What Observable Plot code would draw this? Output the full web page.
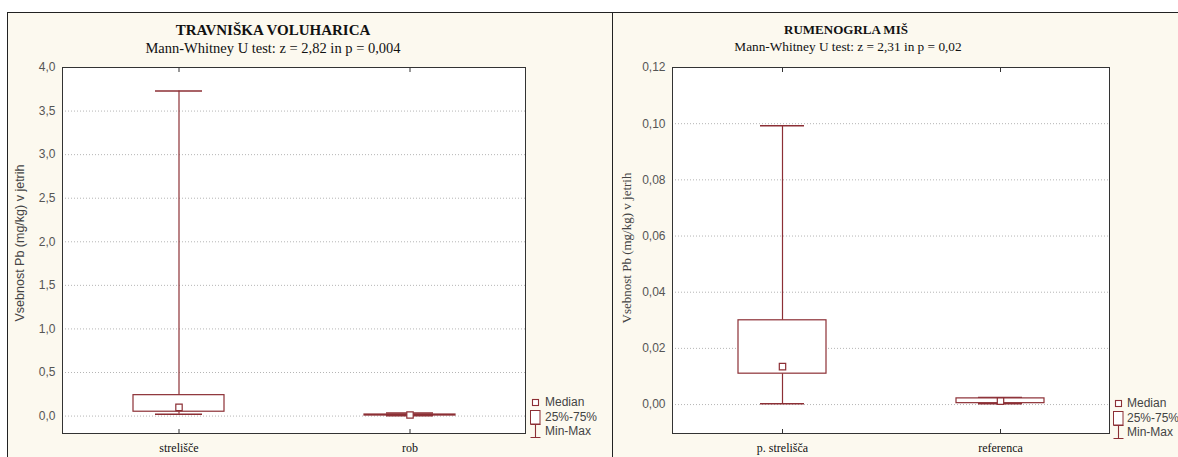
<!DOCTYPE html>
<html>
<head>
<meta charset="utf-8">
<script src="https://cdn.jsdelivr.net/npm/d3@7"></script>
<script src="https://cdn.jsdelivr.net/npm/@observablehq/plot@0.6"></script>
<style>
  html, body { margin: 0; padding: 0; background: #ffffff; }
  #root { position: relative; width: 1178px; height: 457px; overflow: hidden; }
  .panel { position: absolute; top: 12px; height: 460px; background: #fcf9ef; border-left: 1px solid #222; border-top: 1px solid #222; }
  .abs { position: absolute; white-space: nowrap; }
  .title { font-family: "Liberation Serif", serif; font-weight: bold; color: #111; transform: translate(-50%, -50%); }
  .subtitle { font-family: "Liberation Serif", serif; color: #111; transform: translate(-50%, -50%); }
  .ylab { transform: translate(-50%, -50%) rotate(-90deg); color: #444; }
  .legtext { font-family: "Liberation Sans", Arial, sans-serif; font-size: 12px; color: #444; transform: translateY(-50%); }
  svg.icon { position: absolute; overflow: visible; }
</style>
</head>
<body>
<div id="root"></div>
<script>
// ---- data ----
const leftCategories = ["strelišče", "rob"];
const leftMin    = [0.02, 0.003];
const leftQ1     = [0.05, 0.006];
const leftMedian = [0.10, 0.012];
const leftQ3     = [0.24, 0.018];
const leftMax    = [3.73, 0.035];
const leftTicks  = [0, 0.5, 1, 1.5, 2, 2.5, 3, 3.5, 4];

const rightCategories = ["p. strelišča", "referenca"];
const rightMin    = [0.0003, 0.0003];
const rightQ1     = [0.011, 0.0005];
const rightMedian = [0.0135, 0.0012];
const rightQ3     = [0.030, 0.0022];
const rightMax    = [0.0993, 0.0025];
const rightTicks  = [0, 0.02, 0.04, 0.06, 0.08, 0.10, 0.12];

const leftTitle = "TRAVNIŠKA VOLUHARICA";
const leftSubtitle = "Mann-Whitney U test: z = 2,82 in p = 0,004";
const rightTitle = "RUMENOGRLA MIŠ";
const rightSubtitle = "Mann-Whitney U test: z = 2,31 in p = 0,02";
const yLabel = "Vsebnost Pb (mg/kg) v jetrih";
const legendLabels = ["Median", "25%-75%", "Min-Max"];

const COL = "#8c2f35";
const root = document.getElementById("root");

function rows(cats, mn, q1, md, q3, mx) {
  return cats.map((c, i) => ({cat: c, min: mn[i], q1: q1[i], median: md[i], q3: q3[i], max: mx[i]}));
}

function boxPlot({data, cats, ticks, yDomain, fmt, width, ml, mr, boxInset, capInset}) {
  return Plot.plot({
    width, height: 457,
    marginLeft: ml, marginRight: mr, marginTop: 67, marginBottom: 24,
    style: {background: "transparent", fontFamily: "Liberation Sans, Arial, sans-serif", fontSize: "12px", color: "#555", overflow: "visible"},
    x: {type: "band", domain: cats, padding: 0, axis: null},
    y: {domain: yDomain, axis: null},
    marks: [
      Plot.frame({fill: "white", stroke: null}),
      Plot.ruleY(ticks, {stroke: "#b5b5b5", strokeDasharray: "1,2"}),
      Plot.ruleX(data, {x: "cat", y1: "min", y2: "q1", stroke: COL, strokeWidth: 1.2}),
      Plot.ruleX(data, {x: "cat", y1: "q3", y2: "max", stroke: COL, strokeWidth: 1.2}),
      Plot.tickY(data, {x: "cat", y: "min", stroke: COL, strokeWidth: 1.5, insetLeft: capInset, insetRight: capInset}),
      Plot.tickY(data, {x: "cat", y: "max", stroke: COL, strokeWidth: 1.5, insetLeft: capInset, insetRight: capInset}),
      Plot.barY(data, {x: "cat", y1: "q1", y2: "q3", fill: "white", stroke: COL, strokeWidth: 1.2, insetLeft: boxInset, insetRight: boxInset}),
      Plot.dot(data, {x: "cat", y: "median", symbol: "square", r: 3.6, fill: "white", stroke: COL, strokeWidth: 1.2}),
      Plot.frame({stroke: "#333", strokeWidth: 1}),
      Plot.axisY({ticks, tickSize: 0, tickPadding: 7, tickFormat: fmt, fill: "#555", label: null}),
      Plot.axisX({anchor: "bottom", tickSize: -4, tickPadding: 14, stroke: "#333", fill: "#111", fontFamily: "Liberation Serif, serif", fontSize: 12, label: null}),
      Plot.axisX({anchor: "top", tickSize: -4, tickFormat: () => "", stroke: "#333", label: null})
    ]
  });
}

function addDiv(cls, text, x, y, extra) {
  const d = document.createElement("div");
  d.className = "abs " + cls;
  d.textContent = text;
  d.style.left = x + "px";
  d.style.top = y + "px";
  if (extra) Object.assign(d.style, extra);
  root.appendChild(d);
  return d;
}

function addIcon(x, y, w, h, inner) {
  const ns = "http://www.w3.org/2000/svg";
  const s = document.createElementNS(ns, "svg");
  s.setAttribute("class", "icon");
  s.setAttribute("width", w);
  s.setAttribute("height", h);
  s.style.left = x + "px";
  s.style.top = y + "px";
  s.innerHTML = inner;
  root.appendChild(s);
}

function addLegend(iconX, textX, ys) {
  addIcon(iconX + 2, ys[0] - 3, 7, 7, `<rect x="0.5" y="0.5" width="6" height="6" fill="white" stroke="${COL}" stroke-width="1.1"/>`);
  addIcon(iconX, ys[1] - 7, 11, 15, `<rect x="0.5" y="0.5" width="9.5" height="13.5" fill="white" stroke="${COL}" stroke-width="1"/>`);
  addIcon(iconX, ys[2] - 7, 11, 15, `<path d="M0.5,0.5H10.5M5.5,0.5V13.5M0.5,13.5H10.5" fill="none" stroke="${COL}" stroke-width="1.1"/>`);
  legendLabels.forEach((t, i) => addDiv("legtext", t, textX, ys[i]));
}

// panels
const p1 = document.createElement("div"); p1.className = "panel"; p1.style.left = "7px"; p1.style.width = "610px"; root.appendChild(p1);
const p2 = document.createElement("div"); p2.className = "panel"; p2.style.left = "612px"; p2.style.width = "580px"; root.appendChild(p2);

// left chart
const left = boxPlot({
  data: rows(leftCategories, leftMin, leftQ1, leftMedian, leftQ3, leftMax),
  cats: leftCategories, ticks: leftTicks, yDomain: [-0.2, 4.0],
  fmt: d => d.toFixed(1).replace(".", ","),
  width: 600, ml: 62, mr: 75, boxInset: 70, capInset: 92
});
left.style.position = "absolute"; left.style.left = "0px"; left.style.top = "0px";
root.appendChild(left);

// right chart
const right = boxPlot({
  data: rows(rightCategories, rightMin, rightQ1, rightMedian, rightQ3, rightMax),
  cats: rightCategories, ticks: rightTicks, yDomain: [-0.0103, 0.12],
  fmt: d => d.toFixed(2).replace(".", ","),
  width: 566, ml: 60, mr: 69, boxInset: 65, capInset: 87
});
right.style.position = "absolute"; right.style.left = "612px"; right.style.top = "0px";
root.appendChild(right);

// titles
addDiv("title", leftTitle, 273, 30, {fontSize: "15px"});
addDiv("subtitle", leftSubtitle, 273, 48, {fontSize: "14.5px"});
addDiv("title", rightTitle, 846, 30, {fontSize: "13px"});
addDiv("subtitle", rightSubtitle, 848, 47, {fontSize: "13.3px"});

// y labels
addDiv("ylab", yLabel, 20, 243, {fontFamily: "Liberation Sans, Arial, sans-serif", fontSize: "12.5px"});
addDiv("ylab", yLabel, 627, 248, {fontFamily: "'Liberation Serif', serif", fontSize: "13px"});

// legends
addLegend(530, 545, [402, 417, 431]);
addLegend(1113, 1127, [403, 418, 432]);
</script>
</body>
</html>
